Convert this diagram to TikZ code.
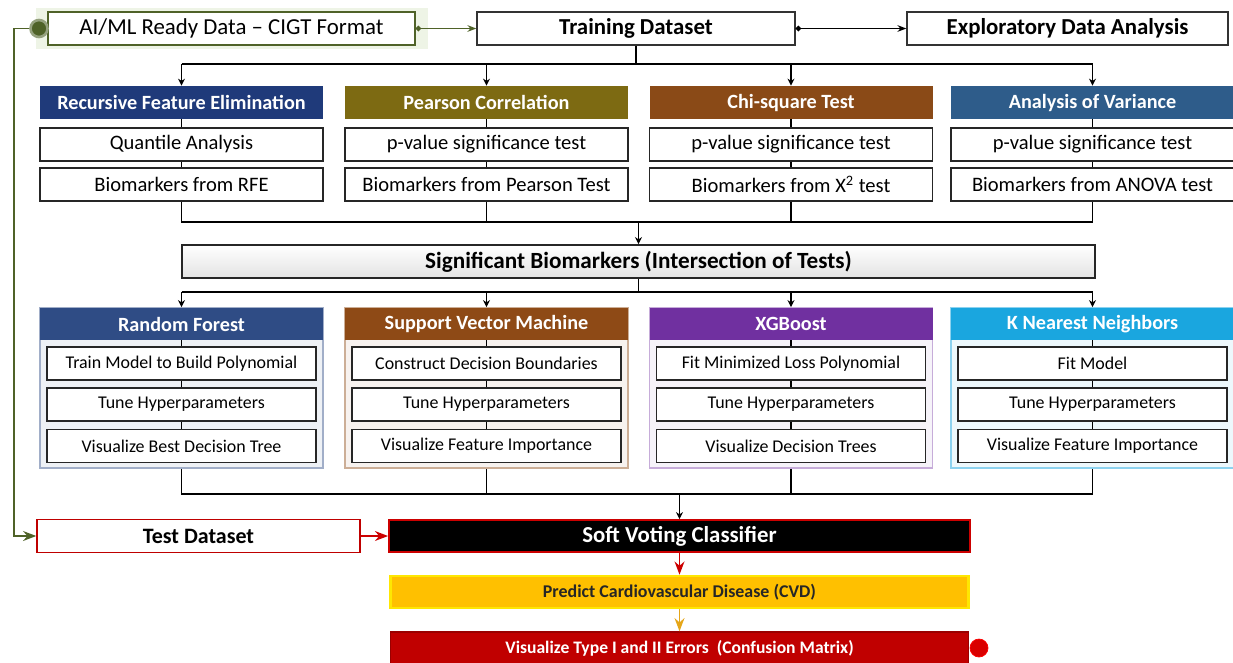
\documentclass[tikz,border=0pt]{standalone}
\usepackage{fontspec}
\setmainfont{Carlito}
\usepackage{xcolor}
\usetikzlibrary{arrows.meta,positioning}

\definecolor{leaf}{HTML}{4F6228}
\definecolor{glow}{HTML}{EEF4E6}
\definecolor{rfeblue}{HTML}{1F3A7A}
\definecolor{pearolive}{HTML}{7D6A12}
\definecolor{chibrown}{HTML}{8A4A17}
\definecolor{anoblue}{HTML}{2E5C8A}
\definecolor{rfblue}{HTML}{2F4C85}
\definecolor{svmbrown}{HTML}{8E4A16}
\definecolor{xgbpurple}{HTML}{7030A0}
\definecolor{knncyan}{HTML}{1AA6DF}
\definecolor{cvdgold}{HTML}{FFC000}
\definecolor{errred}{HTML}{C00000}

\begin{document}
\begin{tikzpicture}[>=Stealth, font=\fontsize{11.7}{13}\selectfont,
    topbox/.style={rectangle, draw=black!80, line width=0.8pt, fill=white,
               minimum height=0.66cm, font=\fontsize{13}{15}\selectfont},
    hd/.style={rectangle, minimum width=5.66cm, minimum height=0.66cm,
               text=white, font=\bfseries\fontsize{11.5}{13}\selectfont},
    sb/.style={rectangle, draw=black!85, line width=0.8pt, fill=white,
               minimum width=5.66cm, minimum height=0.66cm},
    pan/.style={rectangle, line width=1pt, minimum width=5.66cm, minimum height=3.2cm},
    mb/.style={rectangle, draw=black!85, line width=1pt, fill=white,
               minimum width=5.38cm, minimum height=0.66cm,
               font=\fontsize{10.2}{12}\selectfont},
    bus/.style={line width=1.1pt},
    dn/.style={line width=1.1pt, -{Stealth[length=4pt,width=4pt]}}]
  \useasboundingbox (0,0) rectangle (24.66,-13.24);

  % row 0
  \fill[glow] (0.72,-0.16) rectangle (8.56,-0.98);
  \node[topbox, draw=leaf, minimum width=7.34cm] (aiml) at (4.63,-0.57) {AI/ML Ready Data -- CIGT Format};
  \node[circle, fill=leaf, draw=leaf!60, line width=1.5pt, minimum size=0.34cm, inner sep=0pt] (gdot) at (0.78,-0.57) {};
  \node[topbox, minimum width=6.36cm, font=\bfseries\fontsize{13}{15}\selectfont] (train) at (12.72,-0.57) {Training Dataset};
  \node[topbox, minimum width=6.42cm, font=\bfseries\fontsize{13}{15}\selectfont] (eda) at (21.35,-0.57) {Exploratory Data Analysis};

  % row 1: tests
  \node[hd, fill=rfeblue]   (rfe) at (3.63,-2.05)  {Recursive Feature Elimination};
  \node[hd, fill=pearolive] (pea) at (9.73,-2.05)  {Pearson Correlation};
  \node[hd, fill=chibrown]  (chi) at (15.82,-2.05) {Chi-square Test};
  \node[hd, fill=anoblue]   (ano) at (21.85,-2.05) {Analysis of Variance};
  \node[sb] (rfe1) at (3.63,-2.89)  {Quantile Analysis};
  \node[sb] (pea1) at (9.73,-2.89)  {p-value significance test};
  \node[sb] (chi1) at (15.82,-2.89) {p-value significance test};
  \node[sb] (ano1) at (21.85,-2.89) {p-value significance test};
  \node[sb] (rfe2) at (3.63,-3.69)  {Biomarkers from RFE};
  \node[sb] (pea2) at (9.73,-3.69)  {Biomarkers from Pearson Test};
  \node[sb] (chi2) at (15.82,-3.69) {Biomarkers from X\textsuperscript{2} test};
  \node[sb] (ano2) at (21.85,-3.69) {Biomarkers from ANOVA test};

  % row 2
  \node[rectangle, draw=black!85, line width=1pt, top color=white, bottom color=gray!22,
        minimum width=18.26cm, minimum height=0.66cm,
        font=\bfseries\fontsize{13.2}{15}\selectfont] (sig) at (12.77,-5.23)
        {Significant Biomarkers (Intersection of Tests)};

  % row 3: models
  \node[pan, fill=rfblue!8, draw=rfblue!45]         (rfp) at (3.63,-7.76)  {};
  \node[pan, fill=svmbrown!7, draw=svmbrown!45]     (svp) at (9.73,-7.76)  {};
  \node[pan, fill=xgbpurple!6, draw=xgbpurple!40]   (xgp) at (15.82,-7.76) {};
  \node[pan, fill=knncyan!8, draw=knncyan!50]       (knp) at (21.85,-7.76) {};
  \node[hd, fill=rfblue,    minimum height=0.64cm] (rfh) at (3.63,-6.48)  {Random Forest};
  \node[hd, fill=svmbrown,  minimum height=0.64cm] (svh) at (9.73,-6.48)  {Support Vector Machine};
  \node[hd, fill=xgbpurple, minimum height=0.64cm] (xgh) at (15.82,-6.48) {XGBoost};
  \node[hd, fill=knncyan,   minimum height=0.64cm] (knh) at (21.85,-6.48) {K Nearest Neighbors};
  \node[mb] (rf1) at (3.63,-7.27)  {Train Model to Build Polynomial};
  \node[mb] (sv1) at (9.73,-7.27)  {Construct Decision Boundaries};
  \node[mb] (xg1) at (15.82,-7.27) {Fit Minimized Loss Polynomial};
  \node[mb] (kn1) at (21.85,-7.27) {Fit Model};
  \node[mb] (rf2) at (3.63,-8.09)  {Tune Hyperparameters};
  \node[mb] (sv2) at (9.73,-8.09)  {Tune Hyperparameters};
  \node[mb] (xg2) at (15.82,-8.09) {Tune Hyperparameters};
  \node[mb] (kn2) at (21.85,-8.09) {Tune Hyperparameters};
  \node[mb] (rf3) at (3.63,-8.92)  {Visualize Best Decision Tree};
  \node[mb] (sv3) at (9.73,-8.92)  {Visualize Feature Importance};
  \node[mb] (xg3) at (15.82,-8.92) {Visualize Decision Trees};
  \node[mb] (kn3) at (21.85,-8.92) {Visualize Feature Importance};

  % row 4: voting
  \node[topbox, draw=red!75!black, minimum width=6.46cm, font=\bfseries\fontsize{12.5}{14}\selectfont] (test) at (3.97,-10.72) {Test Dataset};
  \node[rectangle, fill=black, draw=red!80!black, line width=1pt, text=white,
        minimum width=11.62cm, minimum height=0.64cm,
        font=\bfseries\fontsize{13}{15}\selectfont] (vote) at (13.59,-10.72) {Soft Voting Classifier};
  \node[rectangle, fill=cvdgold, draw=yellow!90!orange, line width=1.5pt, text=black!85,
        minimum width=11.56cm, minimum height=0.64cm,
        font=\bfseries\fontsize{10.2}{12}\selectfont] (cvd) at (13.59,-11.84) {Predict Cardiovascular Disease (CVD)};
  \node[rectangle, fill=errred, draw=errred!80!black, line width=0.8pt, text=white,
        minimum width=11.56cm, minimum height=0.64cm,
        font=\bfseries\fontsize{10}{12}\selectfont] (err) at (13.59,-12.96) {Visualize Type I and II Errors~ (Confusion Matrix)};
  \node[circle, fill=red!85!black, draw=red, minimum size=0.36cm, inner sep=0pt] (edot) at (19.58,-12.96) {};

  % top arrows
  \draw[leaf, line width=1pt, {Circle[length=3pt]}-{Stealth[length=5pt]}] (aiml) -- (train);
  \draw[line width=1pt, {Circle[length=3pt]}-{Stealth[length=5pt]}] (train) -- (eda);

  % bus to tests
  \coordinate (b1) at (0,-1.28);
  \draw[bus] (train.south) -- (train.south |- b1);
  \draw[bus] (rfe.north |- b1) -- (ano.north |- b1);
  \draw[dn] (rfe.north |- b1) -- (rfe.north);
  \draw[dn] (pea.north |- b1) -- (pea.north);
  \draw[dn] (chi.north |- b1) -- (chi.north);
  \draw[dn] (ano.north |- b1) -- (ano.north);
  \draw[line width=0.8pt] (rfe) -- (rfe1) -- (rfe2);
  \draw[line width=0.8pt] (pea) -- (pea1) -- (pea2);
  \draw[line width=0.8pt] (chi) -- (chi1) -- (chi2);
  \draw[line width=0.8pt] (ano) -- (ano1) -- (ano2);

  % bus to intersection
  \coordinate (b2) at (0,-4.44);
  \draw[bus] (rfe2.south) -- (rfe2.south |- b2) -- (ano2.south |- b2) -- (ano2.south);
  \draw[bus] (pea2.south) -- (pea2.south |- b2);
  \draw[bus] (chi2.south) -- (chi2.south |- b2);
  \draw[dn] (sig.north |- b2) -- (sig.north);

  % bus to models
  \coordinate (b3) at (0,-5.84);
  \draw[bus] (sig.south) -- (sig.south |- b3);
  \draw[bus] (rfp.north |- b3) -- (knp.north |- b3);
  \draw[dn] (rfp.north |- b3) -- (rfp.north);
  \draw[dn] (svp.north |- b3) -- (svp.north);
  \draw[dn] (xgp.north |- b3) -- (xgp.north);
  \draw[dn] (knp.north |- b3) -- (knp.north);
  \draw[line width=0.8pt] (rfh) -- (rf1) -- (rf2) -- (rf3);
  \draw[line width=0.8pt] (svh) -- (sv1) -- (sv2) -- (sv3);
  \draw[line width=0.8pt] (xgh) -- (xg1) -- (xg2) -- (xg3);
  \draw[line width=0.8pt] (knh) -- (kn1) -- (kn2) -- (kn3);

  % bus to voting
  \coordinate (b4) at (0,-9.88);
  \draw[bus] (rfp.south) -- (rfp.south |- b4) -- (knp.south |- b4) -- (knp.south);
  \draw[bus] (svp.south) -- (svp.south |- b4);
  \draw[bus] (xgp.south) -- (xgp.south |- b4);
  \draw[dn] (vote.north |- b4) -- (vote.north);

  % test path
  \coordinate (back) at (0.28,-0.57);
  \draw[leaf, line width=1pt, ->] (gdot.west) -- (back) |- (test.west);
  \draw[red!80!black, line width=1pt, ->] (test) -- (vote);
  \draw[red!80!black, line width=1pt, ->] (vote) -- (cvd);
  \draw[cvdgold!60!brown, line width=1pt, ->] (cvd) -- (err);
\end{tikzpicture}
\end{document}
